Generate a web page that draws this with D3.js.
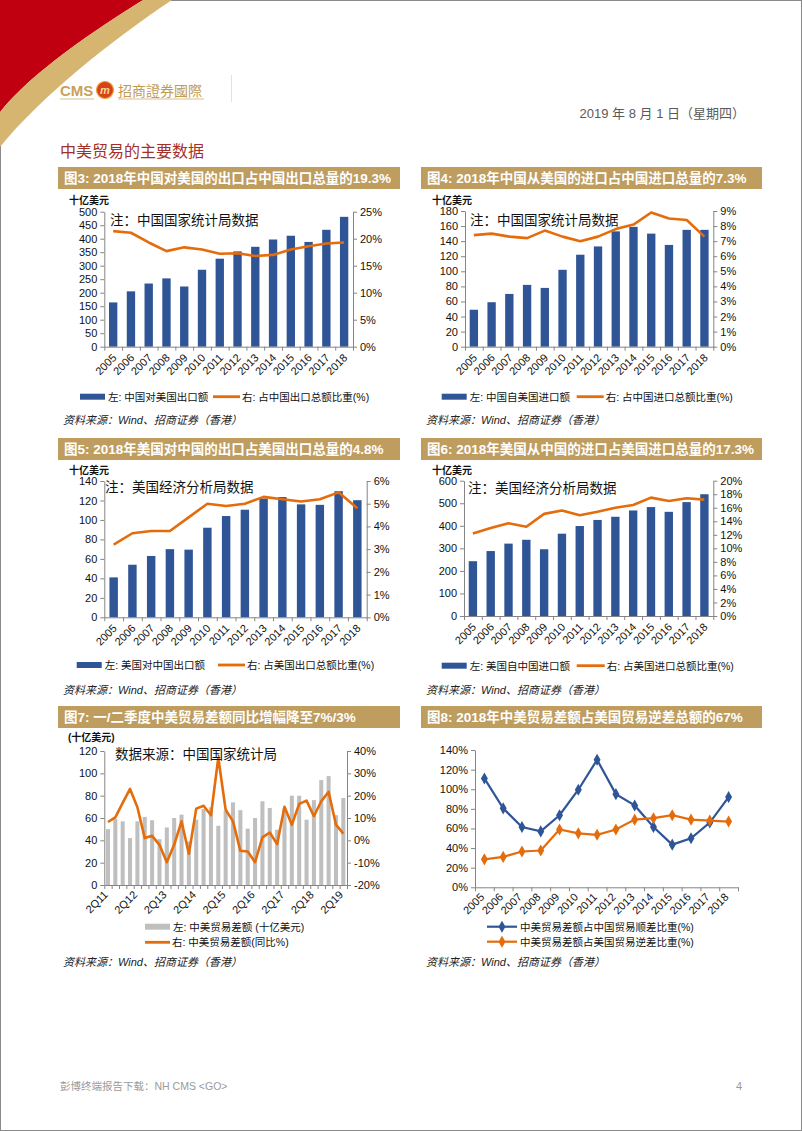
<!DOCTYPE html>
<html><head><meta charset="utf-8">
<script src="https://cdn.jsdelivr.net/npm/d3@7"></script>
<style>body{margin:0;background:#fff}svg{display:block}</style>
</head><body>
<script>
// ---------------- DATA ----------------
const years = ["2005","2006","2007","2008","2009","2010","2011","2012","2013","2014","2015","2016","2017","2018"];

// Fig 3
const cnExportsToUS = [164, 205, 234, 253, 223, 285, 326, 353, 370, 397, 411, 388, 433, 481];
const cnExportShare = [21.4, 21.1, 19.3, 17.7, 18.4, 18.0, 17.2, 17.3, 16.8, 17.0, 18.0, 18.6, 19.1, 19.3];
const ticksL3 = [0, 50, 100, 150, 200, 250, 300, 350, 400, 450, 500];
const ticksR3 = [0, 5, 10, 15, 20, 25];

// Fig 4
const cnImportsFromUS = [49, 59, 70, 82, 78, 102, 122, 133, 153, 159, 150, 135, 155, 155];
const cnImportShare = [7.4, 7.5, 7.3, 7.2, 7.7, 7.3, 7.0, 7.3, 7.8, 8.1, 8.9, 8.5, 8.4, 7.3];
const ticksL4 = [0, 20, 40, 60, 80, 100, 120, 140, 160, 180];
const ticksR4 = [0, 1, 2, 3, 4, 5, 6, 7, 8, 9];

// Fig 5
const usExportsToCN = [41, 54, 63, 70, 69.5, 92, 104, 110.5, 122, 123.5, 116, 115.5, 129.5, 120.3];
const usExportShare = [3.2, 3.7, 3.8, 3.8, 4.4, 5.0, 4.9, 5.0, 5.3, 5.2, 5.1, 5.2, 5.5, 4.8];
const ticksL5 = [0, 20, 40, 60, 80, 100, 120, 140];
const ticksR5 = [0, 1, 2, 3, 4, 5, 6];

// Fig 6
const usImportsFromCN = [243, 288, 321, 338, 296, 365, 399, 426, 440, 468, 483, 462, 505, 540];
const usImportShare = [12.2, 13.0, 13.7, 13.2, 15.1, 15.6, 14.9, 15.4, 16.0, 16.4, 17.5, 17.0, 17.4, 17.2];
const ticksL6 = [0, 100, 200, 300, 400, 500, 600];
const ticksR6 = [0, 2, 4, 6, 8, 10, 12, 14, 16, 18, 20];

// Fig 7
const quarters = ["2Q11","3Q11","4Q11","1Q12","2Q12","3Q12","4Q12","1Q13","2Q13","3Q13","4Q13",
  "1Q14","2Q14","3Q14","4Q14","1Q15","2Q15","3Q15","4Q15","1Q16","2Q16","3Q16","4Q16",
  "1Q17","2Q17","3Q17","4Q17","1Q18","2Q18","3Q18","4Q18","1Q19","2Q19"];
const tradeBalance = [50, 59, 57, 42, 57, 61, 58, 41, 51.5, 60, 63, 39, 58.5, 68, 69.5, 53, 66.5,
  74, 67, 50.5, 60, 75, 69, 49.5, 68.5, 80, 80, 58.5, 76, 94, 97.5, 62.5, 78];
const tradeBalanceYoY = [8.2, 10.3, 16.8, 23, 14.8, 1.0, 2.0, -2, -9.8, -2, 8.5, -6, 14.2, 15.5, 11.2, 37,
  13.7, 8.5, -4.7, -5, -9.8, 1.3, 3.5, -1.7, 15, 7, 16.3, 17.8, 10.8, 17.5, 21.7, 7, 3];
const quarterLabels = ["2Q11","2Q12","2Q13","2Q14","2Q15","2Q16","2Q17","2Q18","2Q19"];
const ticksL7 = [0, 20, 40, 60, 80, 100, 120];
const ticksR7 = [-20, -10, 0, 10, 20, 30, 40];

// Fig 8
const cnSurplusShare = [111, 80.5, 61.5, 57, 73.5, 99.5, 130, 95, 83.5, 61.5, 43.5, 50, 66, 92];
const usDeficitShare = [28.5, 31, 36.5, 37.5, 59, 55, 53.5, 59, 69, 70.5, 73.5, 69, 68, 67];
const ticks8 = [0, 20, 40, 60, 80, 100, 120, 140];

// ---------------- STYLE ----------------
const LAT = "'Liberation Sans', Arial, 'Noto Sans CJK SC', sans-serif";
const CJK = "'Liberation Sans', 'Noto Sans CJK SC', sans-serif";
const TITLEF = "'Liberation Sans Narrow', 'Liberation Sans', 'Noto Sans CJK SC', sans-serif";
const AX = "#858585";
const BLUE = "#2F5597";
const ORANGE = "#E46C0A";
const GREY = "#BFBFBF";
const GOLD = "#BE9D5F";

const svg = d3.select("body").append("svg").attr("width", 802).attr("height", 1131);

// page frame
svg.append("rect").attr("x", 0.5).attr("y", 0.5).attr("width", 801).attr("height", 1130)
  .attr("fill", "#fff").attr("stroke", "#8a8a8a");

// header swoosh
svg.append("path").attr("d", "M0,0 H143 C95,30 32,72 0,112 Z").attr("fill", "#C00010");
svg.append("path").attr("d", "M143,0 H172 C115,38 42,95 0,147 V112 C32,72 95,30 143,0 Z").attr("fill", "#D6B570");

// logo
svg.append("text").attr("x", 60).attr("y", 96).text("CMS")
  .attr("font-family", LAT).attr("font-weight", "bold").attr("font-size", 15).attr("fill", "#C9A25A");
svg.append("circle").attr("cx", 105).attr("cy", 90).attr("r", 8.5).attr("fill", "#D4431B");
svg.append("circle").attr("cx", 105).attr("cy", 90).attr("r", 8.5).attr("fill", "none").attr("stroke", "#E9A23B").attr("stroke-width", 1.2);
svg.append("text").attr("x", 105).attr("y", 93.5).attr("text-anchor", "middle").text("m")
  .attr("font-family", LAT).attr("font-style", "italic").attr("font-weight", "bold").attr("font-size", 11).attr("fill", "#FBD58A");
svg.append("text").attr("x", 118).attr("y", 95.5).text("招商證券國際")
  .attr("font-family", "'Noto Sans CJK TC', 'Noto Sans CJK SC', sans-serif").attr("font-size", 14).attr("fill", "#C29B52");
svg.append("line").attr("x1", 60).attr("x2", 94).attr("y1", 99).attr("y2", 99).attr("stroke", "#D9BE86").attr("stroke-width", 1);
svg.append("line").attr("x1", 118).attr("x2", 204).attr("y1", 99).attr("y2", 99).attr("stroke", "#D9BE86").attr("stroke-width", 1);
svg.append("line").attr("x1", 231.5).attr("x2", 231.5).attr("y1", 75).attr("y2", 102).attr("stroke", "#E6E0D6").attr("stroke-width", 1);

// date
svg.append("text").attr("x", 745).attr("y", 118).attr("text-anchor", "end")
  .text("2019 年 8 月 1 日（星期四）").attr("font-family", CJK).attr("font-size", 13).attr("fill", "#5a5a5a");

// section heading
svg.append("text").attr("x", 60).attr("y", 157).text("中美贸易的主要数据")
  .attr("font-family", "'Noto Sans CJK SC', sans-serif").attr("font-size", 16).attr("fill", "#A3302B");

// footer
svg.append("text").attr("x", 60).attr("y", 1090).text("彭博终端报告下载：NH CMS <GO>")
  .attr("font-family", CJK).attr("font-size", 10.5).attr("fill", "#9a9a9a");
svg.append("text").attr("x", 742).attr("y", 1090).attr("text-anchor", "end").text("4")
  .attr("font-family", LAT).attr("font-size", 11).attr("fill", "#9a9a9a");

// ---------------- HELPERS ----------------
function titleBar(x, y, w, h, txt) {
  svg.append("rect").attr("x", x).attr("y", y).attr("width", w).attr("height", h).attr("fill", GOLD);
  svg.append("text").attr("x", x + 6).attr("y", y + h / 2 + 4.8).text(txt)
    .attr("font-family", TITLEF).attr("font-weight", "bold").attr("font-size", 13.5).attr("fill", "#fff");
}
function txt(x, y, s, opts = {}) {
  const t = svg.append("text").attr("x", x).attr("y", y).text(s)
    .attr("font-family", opts.family || CJK).attr("font-size", opts.size || 10.5).attr("fill", opts.fill || "#111");
  if (opts.weight) t.attr("font-weight", opts.weight);
  if (opts.italic) t.attr("font-style", "italic");
  if (opts.anchor) t.attr("text-anchor", opts.anchor);
  return t;
}
function styleAxis(g, fs = 11) {
  g.selectAll(".domain").attr("stroke", AX);
  g.selectAll(".tick line").attr("stroke", AX);
  g.selectAll("text").attr("font-family", LAT).attr("font-size", fs).attr("fill", "#111");
}
function bandScale(cats, x0, x1, pad) {
  return d3.scaleBand().domain(cats).range([x0, x1]).paddingInner(pad).paddingOuter(pad / 2);
}
function xAxis(cats, x0, x1, y0, labels, ldx, ldy, band) {
  const n = cats.length;
  const xb = d3.scaleLinear().domain([0, n]).range([x0, x1]);
  const g = svg.append("g").attr("transform", `translate(0,${y0})`)
    .call(d3.axisBottom(xb).tickValues(d3.range(n + 1)).tickFormat("").tickSize(4).tickSizeOuter(0));
  styleAxis(g);
  labels.forEach(c => {
    const cx = band(c) + band.bandwidth() / 2;
    svg.append("text").attr("transform", `translate(${cx + ldx},${y0 + ldy}) rotate(-45)`)
      .attr("text-anchor", "end").attr("dy", "0.35em").text(c)
      .attr("font-family", LAT).attr("font-size", 11).attr("fill", "#111");
  });
}

function comboChart(cfg) {
  const { cats, bars, line, x0, x1, yTop, yBot, lDom, lTicks, rDom, rTicks, barColor, pad, labels, ldx, ldy } = cfg;
  const x = bandScale(cats, x0, x1, pad);
  const yL = d3.scaleLinear().domain(lDom).range([yBot, yTop]);
  const yR = d3.scaleLinear().domain(rDom).range([yBot, yTop]);
  // bars
  svg.append("g").selectAll("rect").data(bars).join("rect")
    .attr("x", (d, i) => x(cats[i])).attr("width", x.bandwidth())
    .attr("y", d => yL(d)).attr("height", d => yL(lDom[0]) - yL(d)).attr("fill", barColor);
  // axes
  const gl = svg.append("g").attr("transform", `translate(${x0},0)`)
    .call(d3.axisLeft(yL).tickValues(lTicks).tickSize(4).tickPadding(3).tickSizeOuter(0));
  styleAxis(gl);
  const gr = svg.append("g").attr("transform", `translate(${x1},0)`)
    .call(d3.axisRight(yR).tickValues(rTicks).tickFormat(d => d + "%").tickSize(4).tickPadding(3).tickSizeOuter(0));
  styleAxis(gr);
  xAxis(cats, x0, x1, yBot, labels || cats, ldx, ldy, x);
  // line
  const ln = d3.line().x((d, i) => x(cats[i]) + x.bandwidth() / 2).y(d => yR(d));
  svg.append("path").datum(line).attr("d", ln).attr("fill", "none")
    .attr("stroke", ORANGE).attr("stroke-width", cfg.lw || 2.6).attr("stroke-linejoin", "round");
}

function legendBar(x, y, color, label) {
  svg.append("rect").attr("x", x).attr("y", y - 3).attr("width", 25).attr("height", 6).attr("fill", color);
  txt(x + 28, y + 3.8, label);
}
function legendLine(x, y, w, label) {
  svg.append("line").attr("x1", x).attr("x2", x + w).attr("y1", y).attr("y2", y)
    .attr("stroke", ORANGE).attr("stroke-width", 2.8);
  txt(x + w + 2, y + 3.8, label);
}
function source(x, y) {
  txt(x, y, "资料来源：Wind、招商证券（香港）", { size: 11, italic: true, fill: "#222" });
}

// ---------------- FIG 3 ----------------
titleBar(58, 167, 342, 22, "图3: 2018年中国对美国的出口占中国出口总量的19.3%");
txt(69, 204, "十亿美元", { size: 10, weight: "bold" });
comboChart({ cats: years, bars: cnExportsToUS, line: cnExportShare, x0: 104.3, x1: 353, yTop: 211.7, yBot: 346.7,
  lDom: [0, 500], lTicks: ticksL3, rDom: [0, 25], rTicks: ticksR3, barColor: BLUE, pad: 0.53, ldx: 1.3, ldy: 9 });
txt(110, 224.5, "注：中国国家统计局数据", { size: 13.5 });
legendBar(80, 396.7, BLUE, "左: 中国对美国出口额");
legendLine(213, 396.7, 27, "右: 占中国出口总额比重(%)");
source(63, 424);

// ---------------- FIG 4 ----------------
titleBar(421, 167, 341, 22, "图4: 2018年中国从美国的进口占中国进口总量的7.3%");
txt(432, 204, "十亿美元", { size: 10, weight: "bold" });
comboChart({ cats: years, bars: cnImportsFromUS, line: cnImportShare, x0: 465, x1: 713.3, yTop: 211, yBot: 346.7,
  lDom: [0, 180], lTicks: ticksL4, rDom: [0, 9], rTicks: ticksR4, barColor: BLUE, pad: 0.53, ldx: 1.3, ldy: 9 });
txt(470, 224.5, "注：中国国家统计局数据", { size: 13.5 });
legendBar(441.7, 396.7, BLUE, "左: 中国自美国进口额");
legendLine(576.7, 396.7, 27, "右: 占中国进口总额比重(%)");
source(426, 424);

// ---------------- FIG 5 ----------------
titleBar(58, 438, 342, 22, "图5: 2018年美国对中国的出口占美国出口总量的4.8%");
txt(69, 473.5, "十亿美元", { size: 10, weight: "bold" });
comboChart({ cats: years, bars: usExportsToCN, line: usExportShare, x0: 104.3, x1: 366.7, yTop: 481, yBot: 617.3,
  lDom: [0, 140], lTicks: ticksL5, rDom: [0, 6], rTicks: ticksR5, barColor: BLUE, pad: 0.55, ldx: 1.3, ldy: 9 });
txt(105, 492, "注：美国经济分析局数据", { size: 13.5 });
legendBar(76.7, 665, BLUE, "左: 美国对中国出口额");
legendLine(218, 665, 27, "右: 占美国出口总额比重(%)");
source(63, 694);

// ---------------- FIG 6 ----------------
titleBar(421, 438, 341, 22, "图6: 2018年美国从中国的进口占美国进口总量的17.3%");
txt(432, 473.5, "十亿美元", { size: 10, weight: "bold" });
comboChart({ cats: years, bars: usImportsFromCN, line: usImportShare, x0: 464, x1: 713.3, yTop: 480.7, yBot: 616,
  lDom: [0, 600], lTicks: ticksL6, rDom: [0, 20], rTicks: ticksR6, barColor: BLUE, pad: 0.53, ldx: 1.3, ldy: 9 });
txt(468, 493, "注：美国经济分析局数据", { size: 13.5 });
legendBar(441.7, 665.7, BLUE, "左: 美国自中国进口额");
legendLine(576.7, 665.7, 28, "右: 占美国进口总额比重(%)");
source(426, 694);

// ---------------- FIG 7 ----------------
titleBar(58, 706, 342, 22, "图7: 一/二季度中美贸易差额同比增幅降至7%/3%");
txt(68, 741, "(十亿美元)", { size: 10, weight: "bold" });
comboChart({ cats: quarters, bars: tradeBalance, line: tradeBalanceYoY, x0: 104.3, x1: 347, yTop: 751, yBot: 885,
  lDom: [0, 120], lTicks: ticksL7, rDom: [-20, 40], rTicks: ticksR7, barColor: GREY, pad: 0.45,
  labels: quarterLabels, ldx: -2.1, ldy: 7.7, lw: 2.6 });
txt(115, 759, "数据来源：中国国家统计局", { size: 13.5 });
legendBar(145, 926.7, GREY, "左: 中美贸易差额 (十亿美元)");
legendLine(145, 942.3, 25, "右: 中美贸易差额(同比%)");
source(63, 966);

// ---------------- FIG 8 ----------------
titleBar(421, 706, 341, 22, "图8: 2018年中美贸易差额占美国贸易逆差总额的67%");
(function () {
  const x0 = 475, x1 = 738, yTop = 750, yBot = 887.3;
  const x = bandScale(years, x0, x1, 0.5);
  const y = d3.scaleLinear().domain([0, 140]).range([yBot, yTop]);
  const gl = svg.append("g").attr("transform", `translate(${x0},0)`)
    .call(d3.axisLeft(y).tickValues(ticks8).tickFormat(d => d + "%").tickSize(4).tickPadding(3).tickSizeOuter(0));
  styleAxis(gl);
  xAxis(years, x0, x1, yBot, years, -2.1, 7.7, x);
  const cx = (d, i) => x(years[i]) + x.bandwidth() / 2;
  const ln = d3.line().x(cx).y(d => y(d));
  const diamond = d3.symbol().type(d3.symbolDiamond).size(42);
  [[cnSurplusShare, BLUE], [usDeficitShare, ORANGE]].forEach(([data, col]) => {
    svg.append("path").datum(data).attr("d", ln).attr("fill", "none").attr("stroke", col).attr("stroke-width", 2.2);
    svg.append("g").selectAll("path").data(data).join("path")
      .attr("transform", (d, i) => `translate(${cx(d, i)},${y(d)})`).attr("d", diamond).attr("fill", col);
  });
  [[926.7, BLUE, "中美贸易差额占中国贸易顺差比重(%)"], [941.7, ORANGE, "中美贸易差额占美国贸易逆差比重(%)"]]
    .forEach(([yy, col, lab]) => {
      svg.append("line").attr("x1", 487).attr("x2", 517).attr("y1", yy).attr("y2", yy).attr("stroke", col).attr("stroke-width", 2.2);
      svg.append("path").attr("transform", `translate(502,${yy})`).attr("d", diamond).attr("fill", col);
      txt(520, yy + 3.8, lab);
    });
  source(426, 966);
})();
</script>
</body></html>
